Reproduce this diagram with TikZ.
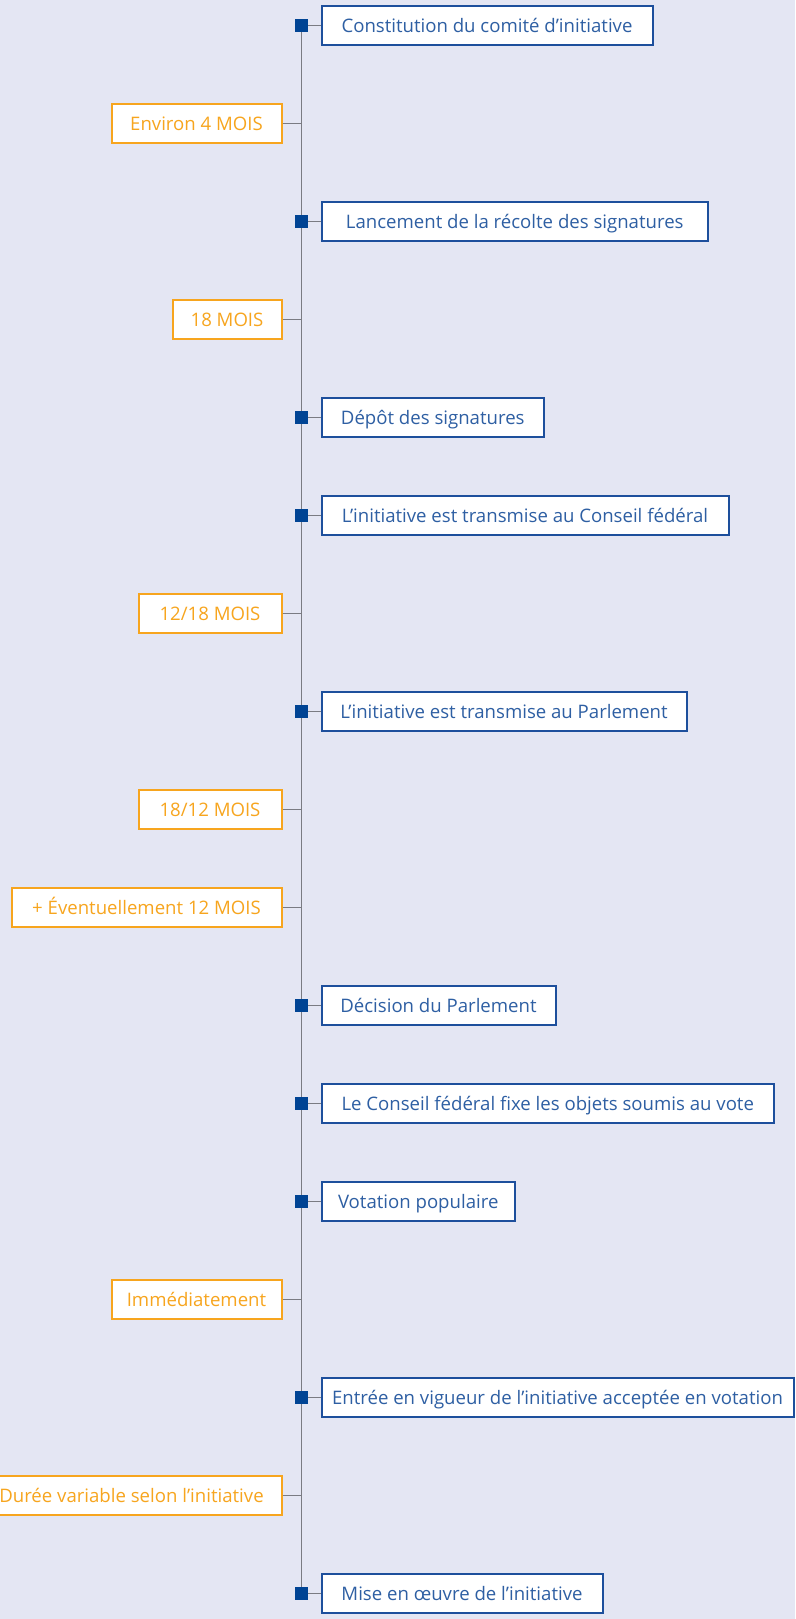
\documentclass[tikz,border=0pt]{standalone}
\usepackage{fontspec}
\setmainfont{Open Sans}
\usetikzlibrary{positioning}
\definecolor{fond}{HTML}{E4E6F3}
\definecolor{bleucadre}{HTML}{1D4F9C}
\definecolor{bleutexte}{HTML}{2E5FA3}
\definecolor{bleujalon}{HTML}{004494}
\definecolor{orangeduree}{HTML}{F7A51E}
\definecolor{trait}{HTML}{7A7B82}

\begin{document}
\begin{tikzpicture}[x=1pt, y=-1pt, font=\fontsize{18.6}{22}\selectfont, node distance=19pt]
  \tikzstyle{etape}=[draw=bleucadre, line width=2pt, fill=white, text=bleutexte, minimum height=39pt, inner xsep=8pt, inner ysep=0pt, text height=17pt, text depth=3.7pt]
  \tikzstyle{duree}=[draw=orangeduree, line width=2pt, fill=white, text=orangeduree, minimum height=39pt, inner xsep=8pt, inner ysep=0pt, text height=17pt, text depth=3.7pt]
  \tikzstyle{jalon}=[fill=bleujalon, minimum size=13pt, inner sep=0pt]
  \tikzstyle{tige}=[draw=trait, line width=1.3pt]
  \fill[fond] (0,0) rectangle (795,1619);
  \useasboundingbox (0,0) rectangle (795,1619);
  % points of the time axis
  \coordinate (t0) at (301.5,25.8);
  \coordinate (t1) at (301.5,123.8);
  \coordinate (t2) at (301.5,221.8);
  \coordinate (t3) at (301.5,319.8);
  \coordinate (t4) at (301.5,417.8);
  \coordinate (t5) at (301.5,515.8);
  \coordinate (t6) at (301.5,613.8);
  \coordinate (t7) at (301.5,711.8);
  \coordinate (t8) at (301.5,809.8);
  \coordinate (t9) at (301.5,907.8);
  \coordinate (t10) at (301.5,1005.8);
  \coordinate (t11) at (301.5,1103.8);
  \coordinate (t12) at (301.5,1201.8);
  \coordinate (t13) at (301.5,1299.8);
  \coordinate (t14) at (301.5,1397.8);
  \coordinate (t15) at (301.5,1495.8);
  \coordinate (t16) at (301.5,1593.8);
  \draw[tige] (t0) -- (t16);
  % steps
  \node[etape, right=of t0, minimum width=331pt] (comite) {Constitution du comité d’initiative};
  \node[etape, right=of t2, minimum width=386.5pt] (lancement) {Lancement de la récolte des signatures};
  \node[etape, right=of t4, minimum width=222.5pt] (depot) {Dépôt des signatures};
  \node[etape, right=of t5, minimum width=407pt] (transcf) {L’initiative est transmise au Conseil fédéral};
  \node[etape, right=of t7, minimum width=365pt] (transparl) {L’initiative est transmise au Parlement};
  \node[etape, right=of t10, minimum width=234pt] (decision) {Décision du Parlement};
  \node[etape, right=of t11, minimum width=452.5pt] (objets) {Le Conseil fédéral fixe les objets soumis au vote};
  \node[etape, right=of t12, minimum width=193.5pt] (votation) {Votation populaire};
  \node[etape, right=of t14, minimum width=472pt] (vigueur) {Entrée en vigueur de l’initiative acceptée en votation};
  \node[etape, right=of t16, minimum width=281pt] (oeuvre) {Mise en œuvre de l’initiative};
  % durations
  \node[duree, left=of t1, minimum width=170pt] (environ) {Environ 4 MOIS};
  \node[duree, left=of t3, minimum width=109pt] (recolte) {18 MOIS};
  \node[duree, left=of t6, minimum width=143pt] (examen) {12/18 MOIS};
  \node[duree, left=of t8, minimum width=143pt] (debat) {18/12 MOIS};
  \node[duree, left=of t9, minimum width=270pt] (prolong) {+ Éventuellement 12 MOIS};
  \node[duree, left=of t13, minimum width=170pt] (immediat) {Immédiatement};
  \node[duree, left=of t15, minimum width=300pt] (variable) {Durée variable selon l’initiative};
  % connectors
  \draw[tige] (t0) -- (comite);
  \draw[tige] (t2) -- (lancement);
  \draw[tige] (t4) -- (depot);
  \draw[tige] (t5) -- (transcf);
  \draw[tige] (t7) -- (transparl);
  \draw[tige] (t10) -- (decision);
  \draw[tige] (t11) -- (objets);
  \draw[tige] (t12) -- (votation);
  \draw[tige] (t14) -- (vigueur);
  \draw[tige] (t16) -- (oeuvre);
  \draw[tige] (environ) -- (t1);
  \draw[tige] (recolte) -- (t3);
  \draw[tige] (examen) -- (t6);
  \draw[tige] (debat) -- (t8);
  \draw[tige] (prolong) -- (t9);
  \draw[tige] (immediat) -- (t13);
  \draw[tige] (variable) -- (t15);
  % milestones
  \node[jalon] (j0) at (t0) {};
  \node[jalon] (j2) at (t2) {};
  \node[jalon] (j4) at (t4) {};
  \node[jalon] (j5) at (t5) {};
  \node[jalon] (j7) at (t7) {};
  \node[jalon] (j10) at (t10) {};
  \node[jalon] (j11) at (t11) {};
  \node[jalon] (j12) at (t12) {};
  \node[jalon] (j14) at (t14) {};
  \node[jalon] (j16) at (t16) {};
\end{tikzpicture}
\end{document}
